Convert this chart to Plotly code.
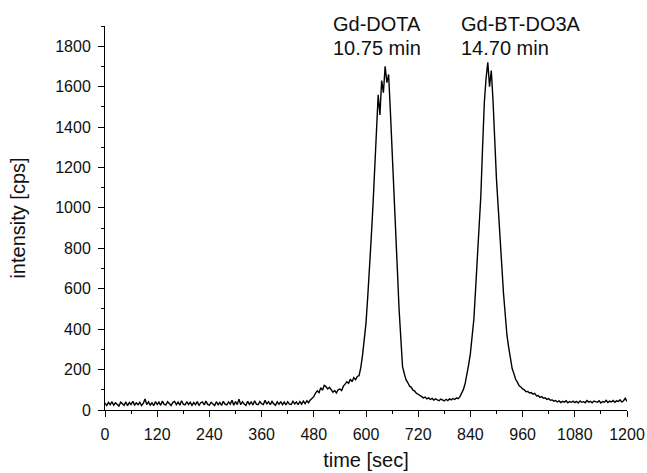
import plotly.graph_objects as go

# sampling times (s) of the chromatogram
time_sec = list(range(0, 1201, 4))

# intensity (cps), one value per 4 s
intensity_cps = [
    34, 22, 38, 26, 41, 24, 36, 28, 20, 39,
    30, 23, 40, 21, 37, 27, 43, 24, 35, 26,
    38, 22, 33, 55, 27, 40, 24, 36, 21, 42,
    27, 39, 23, 44, 28, 25, 41, 30, 22, 38,
    42, 26, 39, 24, 46, 29, 25, 41, 27, 38,
    23, 37, 26, 42, 22, 36, 40, 25, 44, 28,
    24, 38, 27, 22, 41, 26, 37, 23, 43, 29,
    25, 40, 29, 48, 24, 42, 27, 54, 26, 41,
    30, 23, 43, 28, 40, 25, 46, 29, 26, 42,
    31, 27, 48, 29, 41, 26, 43, 30, 24, 40,
    28, 42, 26, 39, 25, 41, 29, 27, 43, 30,
    40, 26, 42, 29, 44, 31, 46, 36, 50, 58,
    66, 84, 95, 86, 110, 98, 122, 116, 104, 112,
    100, 88, 96, 84, 100, 104, 96, 118, 128, 140,
    132, 152, 140, 160, 150, 166, 170, 210, 270, 340,
    430, 560, 690, 850, 1010, 1200, 1420, 1560, 1460, 1630,
    1570, 1700, 1620, 1660, 1480, 1300, 1090, 890, 700, 500,
    320, 215, 180, 150, 136, 118, 112, 98, 94, 82,
    78, 70, 66, 60, 64, 55, 60, 52, 57, 49,
    55, 50, 46, 54, 49, 45, 53, 47, 55, 50,
    57, 52, 60, 56, 66, 82, 102, 132, 172, 225,
    280, 350, 450, 600, 750, 900, 1060, 1300, 1520, 1640,
    1720, 1600, 1680, 1530, 1300, 1140, 1000, 880, 720, 580,
    450, 370, 310, 250, 205, 180, 152, 138, 120, 114,
    104, 100, 90, 92, 84, 86, 78, 82, 70, 72,
    62, 66, 58, 60, 52, 56, 48, 50, 44, 47,
    40, 45, 37, 43, 39, 46, 36, 42, 38, 44,
    37, 43, 35, 45, 38, 41, 36, 47, 39, 43,
    36, 44, 40, 38, 46, 35, 42, 39, 48, 37,
    44, 40, 47, 38, 45, 42, 50, 39, 46, 58, 42,
]

x_ticks = [0, 120, 240, 360, 480, 600, 720, 840, 960, 1080, 1200]
y_ticks = [0, 200, 400, 600, 800, 1000, 1200, 1400, 1600, 1800]

peak_names = ["Gd-DOTA", "Gd-BT-DO3A"]
peak_times = ["10.75 min", "14.70 min"]
label_x = [522, 816]

FONT = "Liberation Sans, Arial, sans-serif"
INK = "#111111"

fig = go.Figure()
fig.add_trace(go.Scatter(
    x=time_sec, y=intensity_cps, mode="lines",
    line=dict(color="black", width=1.4), showlegend=False,
))

for name, rt, lx in zip(peak_names, peak_times, label_x):
    fig.add_annotation(
        x=lx, xref="x", y=1.0047, yref="paper",
        text=name, showarrow=False, xanchor="left", yanchor="middle",
        font=dict(family=FONT, size=20, color=INK), borderpad=0,
    )
    fig.add_annotation(
        x=lx, xref="x", y=0.942, yref="paper",
        text=rt, showarrow=False, xanchor="left", yanchor="middle",
        font=dict(family=FONT, size=20, color=INK), borderpad=0,
    )

axis_common = dict(
    showline=True, linecolor="black", linewidth=1,
    showgrid=False, zeroline=False, automargin=False,
    ticks="outside", ticklen=6, tickwidth=1, tickcolor="black",
    ticklabelstandoff=4,
    tickfont=dict(family=FONT, size=16, color=INK),
)

fig.update_xaxes(
    range=[0, 1200], tickvals=x_ticks,
    minor=dict(ticks="outside", ticklen=3, dtick=60, tick0=0, tickcolor="black"),
    title=dict(text="time [sec]", font=dict(family=FONT, size=20, color=INK), standoff=10),
    **axis_common,
)
fig.update_yaxes(
    range=[0, 1900], tickvals=y_ticks,
    minor=dict(ticks="outside", ticklen=3, dtick=100, tick0=0, tickcolor="black"),
    title=dict(text="intensity [cps]", font=dict(family=FONT, size=20, color=INK), standoff=24),
    **axis_common,
)

fig.update_layout(
    width=647, height=473,
    margin=dict(l=105, r=20, t=26, b=63),
    plot_bgcolor="white", paper_bgcolor="white",
    font=dict(family=FONT, color=INK),
)

# remove the browser's default page margin so the figure sits at the window origin
fig.write_html(
    "out.html",
    config={"displayModeBar": False},
    post_script="document.body.style.margin='0';",
)
